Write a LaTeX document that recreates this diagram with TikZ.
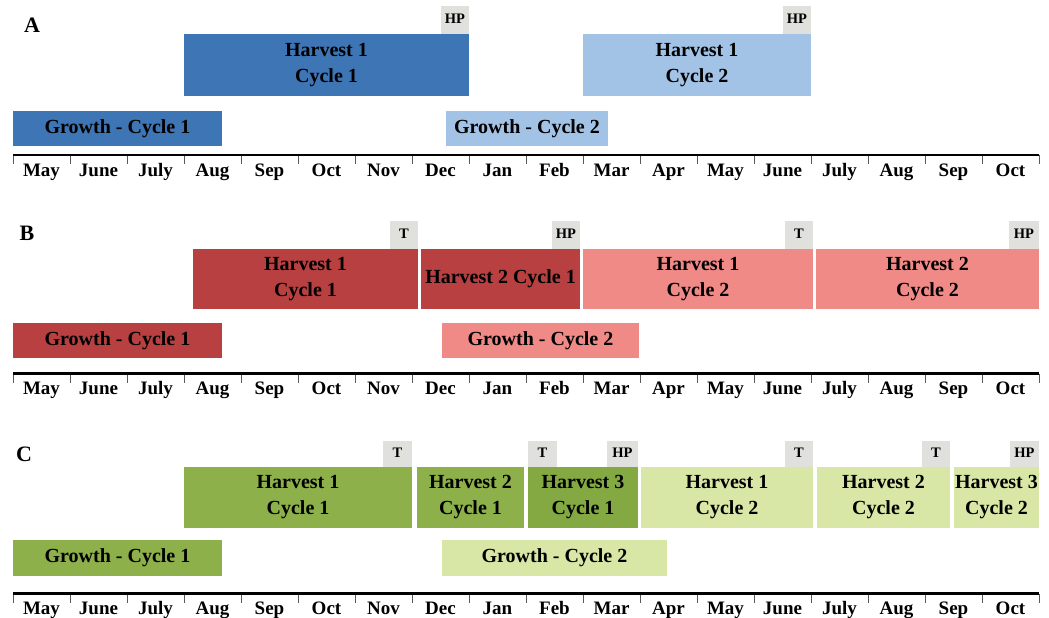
\documentclass[tikz,border=0pt]{standalone}
\usepackage{fontspec}
\setmainfont{Liberation Serif}
\usepackage{graphicx}
\definecolor{dblue}{HTML}{3E75B4}
\definecolor{lblue}{HTML}{A3C3E6}
\definecolor{dred}{HTML}{B94040}
\definecolor{lred}{HTML}{F08A87}
\definecolor{dgreen}{HTML}{8DB04A}
\definecolor{ddgreen}{HTML}{84A943}
\definecolor{lgreen}{HTML}{D8E6A6}
\definecolor{tag}{HTML}{E0E0DC}
\newcommand\tlbox[7]{\node[bx, fill=#6, minimum width={(#4-#2)*1pt}, minimum height={(#5-#3)*1pt}, anchor=north west] (#1) at (#2,#3) {#7};}
\begin{document}
\begin{tikzpicture}[x=1pt,y=-1pt,
  bx/.style={rectangle, draw=none, inner sep=0pt, outer sep=0pt, align=center,
    font=\fontsize{20}{26}\selectfont\bfseries},
  tg/.style={bx, fill=tag, font=\fontsize{14.5}{15}\selectfont\bfseries},
  month/.style={anchor=base, inner sep=0pt, font=\fontsize{19}{20}\selectfont\bfseries},
  panel/.style={inner sep=0pt, font=\fontsize{22}{23}\selectfont\bfseries},
  axis/.style={line width=2.7pt},
  tick/.style={line width=1pt, draw=black!65}]
\useasboundingbox (0,0) rectangle (1049,618);

% ---------- Panel A ----------
\node[panel] (pA) at (32,25) {A};
\tlbox{hA1}{184}{34}{469}{96}{dblue}{Harvest 1\\Cycle 1}
\tlbox{tA1}{441}{6}{469}{34}{tag}{}
\node[tg, fill=none] (tA1t) at ([yshift=1pt]tA1.center) {HP};
\tlbox{gA1}{13}{111}{222}{146}{dblue}{Growth - Cycle 1}
\tlbox{gA2}{446}{111}{608}{146}{lblue}{Growth - Cycle 2}
\tlbox{hA2}{583}{34}{811}{96}{lblue}{Harvest 1\\Cycle 2}
\tlbox{tA2}{783}{6}{811}{34}{tag}{}
\node[tg, fill=none] (tA2t) at ([yshift=1pt]tA2.center) {HP};

% ---------- Panel B ----------
\node[panel] (pB) at (27,233.5) {B};
\tlbox{hB11}{193}{249}{418}{309}{dred}{Harvest 1\\Cycle 1}
\tlbox{tB1}{390}{221}{418}{249}{tag}{}
\node[tg, fill=none] (tB1t) at ([yshift=1pt]tB1.center) {T};
\tlbox{hB21}{421}{249}{580}{309}{dred}{Harvest 2 Cycle 1}
\tlbox{tB2}{552}{221}{580}{249}{tag}{}
\node[tg, fill=none] (tB2t) at ([yshift=1pt]tB2.center) {HP};
\tlbox{hB12}{583}{249}{813}{309}{lred}{Harvest 1\\Cycle 2}
\tlbox{tB3}{785}{221}{813}{249}{tag}{}
\node[tg, fill=none] (tB3t) at ([yshift=1pt]tB3.center) {T};
\tlbox{hB22}{816}{249}{1039}{309}{lred}{Harvest 2\\Cycle 2}
\tlbox{tB4}{1009}{221}{1039}{249}{tag}{}
\node[tg, fill=none] (tB4t) at ([yshift=1pt]tB4.center) {HP};
\tlbox{gB1}{13}{323}{222}{358}{dred}{Growth - Cycle 1}
\tlbox{gB2}{442}{323}{639}{358}{lred}{Growth - Cycle 2}

% ---------- Panel C ----------
\node[panel] (pC) at (24,454) {C};
\tlbox{hC11}{184}{467}{412}{528}{dgreen}{Harvest 1\\Cycle 1}
\tlbox{tC1}{383}{441}{412}{467}{tag}{}
\node[tg, fill=none] (tC1t) at ([yshift=1pt]tC1.center) {T};
\tlbox{hC21}{417}{467}{524}{528}{dgreen}{Harvest 2\\Cycle 1}
\tlbox{hC31}{528}{467}{638}{528}{ddgreen}{Harvest 3\\Cycle 1}
\tlbox{tC2}{528}{441}{557}{467}{tag}{}
\node[tg, fill=none] (tC2t) at ([yshift=1pt]tC2.center) {T};
\tlbox{tC3}{607}{441}{638}{467}{tag}{}
\node[tg, fill=none] (tC3t) at ([yshift=1pt]tC3.center) {HP};
\tlbox{hC12}{641}{467}{813}{528}{lgreen}{Harvest 1\\Cycle 2}
\tlbox{tC4}{785}{441}{813}{467}{tag}{}
\node[tg, fill=none] (tC4t) at ([yshift=1pt]tC4.center) {T};
\tlbox{hC22}{817}{467}{950}{528}{lgreen}{Harvest 2\\Cycle 2}
\tlbox{tC5}{922}{441}{950}{467}{tag}{}
\node[tg, fill=none] (tC5t) at ([yshift=1pt]tC5.center) {T};
\tlbox{hC32}{954}{467}{1039}{528}{lgreen}{Harvest 3\\Cycle 2}
\tlbox{tC6}{1010}{441}{1039}{467}{tag}{}
\node[tg, fill=none] (tC6t) at ([yshift=1pt]tC6.center) {HP};
\tlbox{gC1}{13}{540}{222}{576}{dgreen}{Growth - Cycle 1}
\tlbox{gC2}{442}{540}{667}{576}{lgreen}{Growth - Cycle 2}

% ---------- Axes ----------
\foreach \p/\ay/\by in {A/155/176, B/373.5/394, C/593.5/614} {
  \coordinate (ax\p s) at (13,\ay);
  \coordinate (ax\p e) at (1039,\ay);
  \foreach \k in {0,...,18} {
    \coordinate (tk\p\k) at ({13+57*\k},\ay);
    \coordinate (tb\p\k) at ({13+57*\k},\ay+9);
    \draw[tick] (tk\p\k) -- (tb\p\k);
  }
  \draw[axis] (ax\p s) -- (ax\p e);
  \foreach \m [count=\i from 0] in {May,June,July,Aug,Sep,Oct,Nov,Dec,Jan,Feb,Mar,Apr,May,June,July,Aug,Sep,Oct} {
    \node[month] (m\p\i) at ({13+57*(\i+0.5)},\by) {\m};
  }
}
\end{tikzpicture}
\end{document}
